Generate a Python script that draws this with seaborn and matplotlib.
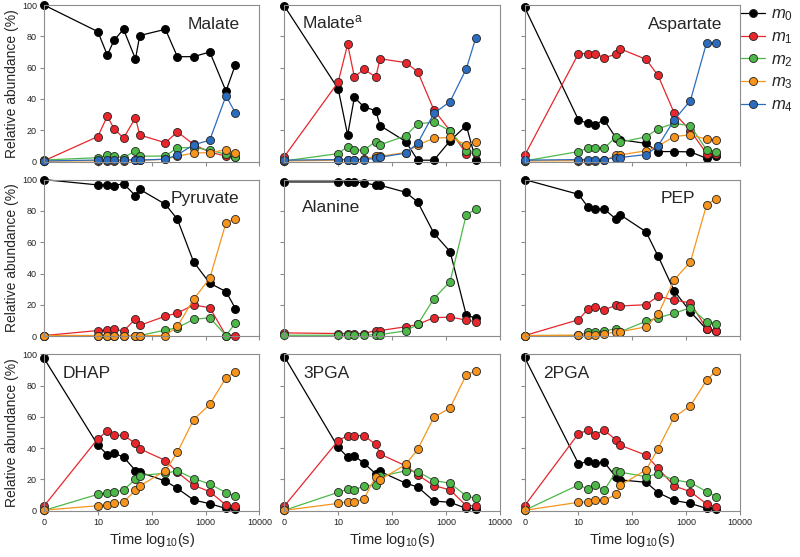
import numpy as np
import pandas as pd
import seaborn as sns
import matplotlib.pyplot as plt
from matplotlib.lines import Line2D

# sampling times (s); t=0 is drawn at the first log position and labelled "0"
times = [0, 10, 15, 20, 30, 50, 60, 180, 300, 600, 1200, 2400, 3600]

malate = {
    "m0": [100, 83, 68, 77.5, 84.5, 65.5, 80.5, 84.5, 67, 67, 70, 45, 62],
    "m1": [0.5, 16, 29, 21, 15, 28, 17, 12, 19, 11, 6, 3.5, 3],
    "m2": [1, 2.5, 4, 3.4, 2.5, 6.8, 3.4, 3.6, 8.8, 9, 7.3, 4.7, 3.2],
    "m3": [0.3, 0.5, 0.5, 0.5, 0.5, 0.8, 0.8, 1.5, 3.5, 5.4, 5.8, 7.5, 5.8],
    "m4": [0.4, 1, 1, 1, 1, 1.3, 1, 1.5, 4.3, 10.7, 13.7, 42, 31],
}
malate_a = {
    "m0": [99.4, 46.5, 17, 41, 35, 32.5, 23, 12.8, 0.9, 0.9, 13.3, 23, 0.9],
    "m1": [3.2, 50.7, 75, 54, 59, 54, 65.7, 63.2, 57.4, 33, 19.7, 5.1, 5.8],
    "m2": [0.4, 5.1, 9.6, 7.3, 7.3, 12.8, 10.7, 16.5, 24.2, 25.1, 19.7, 6.9, 6.4],
    "m3": [0.4, 0.9, 1.3, 1.3, 1.7, 3.4, 3.4, 5.8, 10.5, 15, 15.4, 10.7, 12.4],
    "m4": [0.9, 1.3, 1.3, 1.3, 1.3, 2.1, 2.8, 5.4, 11.8, 30.8, 38.3, 59.3, 79],
}
aspartate = {
    "m0": [98.5, 26.6, 24.4, 23.6, 26.6, 15, 14, 11.6, 6.4, 6.4, 6.2, 2.1, 3.6],
    "m1": [3.9, 69, 69, 69, 66.4, 68.5, 72, 65.3, 55, 31, 19.7, 5.1, 4.7],
    "m2": [0.4, 6.4, 8.6, 9, 8.6, 15.8, 12.4, 15.8, 21, 24.4, 22.9, 7.5, 6.4],
    "m3": [0.4, 0.6, 0.6, 0.6, 0.8, 4, 4.3, 6.9, 9.9, 16, 17.1, 14.3, 13.7],
    "m4": [0.9, 1.3, 1.3, 1.3, 1.3, 2.6, 2.6, 4.5, 9.9, 26.6, 39, 76, 76],
}
pyruvate = {
    "m0": [100, 96.6, 96.6, 96.2, 97.4, 89.7, 93.8, 84.2, 74.7, 47.5, 33.8, 28.5, 17.6],
    "m1": [0.4, 3.6, 4, 4.7, 3.2, 11.1, 6.9, 12.8, 14.8, 19.9, 18.2, 0.4, 0.4],
    "m2": [0.4, 0.4, 0.4, 0.4, 0.4, 0.4, 0.4, 3.9, 5.4, 10.7, 11.8, 0.4, 8.4],
    "m3": [0.4, 0.4, 0.4, 0.4, 0.4, 0.4, 0.4, 0.4, 6.2, 23.6, 37, 72.4, 75],
}
alanine = {
    "m0": [98.5, 98.5, 98.5, 98.5, 98, 96.4, 96.4, 91.9, 85.7, 65.7, 54, 13.3, 11.6],
    "m1": [2.1, 1.7, 1.7, 1.7, 1.7, 3.6, 3.6, 6, 7.5, 11.8, 12.2, 10.3, 9.2],
    "m2": [0.6, 0.6, 0.6, 0.6, 0.6, 1, 1, 3.4, 7.5, 24, 34.9, 77.7, 81],
}
pep = {
    "m0": [100, 90.6, 82.5, 81.2, 81.2, 74.7, 77.5, 66.6, 51.2, 28.9, 15.6, 4.3, 3.6],
    "m1": [0.4, 10.5, 17.3, 18.4, 16.9, 19.7, 19.3, 20.1, 25.5, 23.1, 21.2, 4.9, 3.2],
    "m2": [0.4, 0.5, 2.4, 2.4, 3.2, 4.9, 2.8, 9.6, 11.8, 14.6, 18.2, 9.2, 7.9],
    "m3": [0.4, 0.6, 0.6, 0.6, 1.5, 2.8, 2.8, 6, 13.9, 36, 47.5, 83.9, 87.8],
}
dhap = {
    "m0": [97.4, 42, 35.8, 36.8, 34.3, 25.7, 24.6, 19, 14.3, 6.9, 4.5, 1.5, 1],
    "m1": [3, 46, 51, 48.2, 48.2, 43, 39.6, 32.1, 24.6, 16.3, 12.2, 3.6, 3],
    "m2": [0.2, 10.5, 11.3, 12, 13.3, 20.1, 22.5, 24, 25.5, 20.6, 17.1, 11.6, 9.4],
    "m3": [0.4, 3.2, 3.9, 4.7, 5.6, 13.1, 15.8, 25.7, 37.3, 58.2, 67.9, 85, 88.7],
}
pga3 = {
    "m0": [98.5, 40.5, 34.3, 35.1, 30.4, 23.6, 25.1, 17.6, 15.2, 6.2, 5.4, 1.5, 1.3],
    "m1": [3, 44.8, 48, 48, 48, 42.4, 36.2, 28.7, 22.9, 16.1, 13.3, 3.2, 3.2],
    "m2": [0.3, 11.8, 13.7, 13.3, 15.8, 16.5, 22, 25.5, 25, 19.3, 17.6, 9.4, 7.9],
    "m3": [0.3, 4.7, 5.8, 5.8, 7.5, 21.8, 19.7, 29.6, 39.2, 59.7, 65.7, 86.9, 89.3],
}
pga2 = {
    "m0": [97.9, 30, 31.5, 30.4, 31, 21.4, 19.7, 18.2, 11.6, 6.6, 4.7, 1.5, 1.3],
    "m1": [3.2, 49.3, 51.4, 48.6, 51.4, 45.2, 41.8, 35.5, 27.2, 15.8, 12.2, 4.3, 2.6],
    "m2": [0.3, 16.5, 13.9, 16.5, 13.1, 25.1, 24.6, 21.8, 23.6, 19.7, 18, 12.2, 9],
    "m3": [0.3, 5.4, 5.6, 6.9, 6.6, 10.5, 16.3, 26.1, 39.6, 59.9, 67, 83.5, 89.3],
}

panel_names = ["Malate", "Malate$^{\\mathrm{a}}$", "Aspartate",
               "Pyruvate", "Alanine", "PEP",
               "DHAP", "3PGA", "2PGA"]
panel_data = [malate, malate_a, aspartate, pyruvate, alanine, pep, dhap, pga3, pga2]

x_ticks = [1, 10, 100, 1000, 10000]
x_ticklabels = ["0", "10", "100", "1000", "10000"]
y_ticks = [0, 20, 40, 60, 80, 100]

colors = {"m0": "#000000", "m1": "#e8262b", "m2": "#4db848",
          "m3": "#f7941d", "m4": "#2b6cbf"}

sns.set_style("ticks")
plt.rcParams["font.family"] = ["Liberation Sans", "DejaVu Sans"]
plt.rcParams["mathtext.fontset"] = "custom"
plt.rcParams["mathtext.rm"] = "Liberation Sans"
plt.rcParams["mathtext.it"] = "Liberation Sans:italic"

# title placement (axes fraction, alignment)
title_pos = [(0.91, 0.85, "right"), (0.083, 0.85, "left"), (0.917, 0.85, "right"),
             (0.907, 0.85, "right"), (0.083, 0.79, "left"), (0.63, 0.85, "left"),
             (0.088, 0.85, "left"), (0.088, 0.85, "left"), (0.088, 0.85, "left")]

MS = 5.8

fig, axes = plt.subplots(3, 3, figsize=(8, 5.57), dpi=100)
fig.subplots_adjust(left=0.055, right=0.925, top=0.991, bottom=0.083,
                    wspace=0.116, hspace=0.115)

for i, ax in enumerate(axes.flat):
    d = panel_data[i]
    rows = []
    for iso, vals in d.items():
        for t, v in zip(times, vals):
            rows.append({"t": t if t > 0 else 1, "val": v, "iso": iso})
    df = pd.DataFrame(rows)
    for iso in d:
        sub = df[df["iso"] == iso]
        sns.lineplot(data=sub, x="t", y="val", ax=ax, color=colors[iso],
                     marker="o", markersize=MS, linewidth=0.9,
                     markeredgecolor="#222222" if iso != "m0" else "#000000",
                     markeredgewidth=0.6, estimator=None, clip_on=False)
    ax.set_xscale("log")
    ax.set_xlim(1, 10000)
    ax.set_ylim(0, 100)
    ax.set_xticks(x_ticks)
    ax.minorticks_off()
    ax.set_yticks(y_ticks)
    ax.set_xlabel("")
    ax.set_ylabel("")
    r, c = divmod(i, 3)
    if r == 2:
        ax.set_xticklabels(x_ticklabels)
        ax.set_xlabel("Time log$_{10}$(s)", fontsize=10.5, labelpad=3)
    else:
        ax.set_xticklabels([])
    if c == 0:
        ax.set_ylabel("Relative abundance (%)", fontsize=10, labelpad=2)
    else:
        ax.set_yticklabels([])
    for sp in ax.spines.values():
        sp.set_visible(True)
        sp.set_color("#8c8c8c")
        sp.set_linewidth(0.8)
    ax.tick_params(axis="both", direction="out", length=3, width=0.8,
                   color="#8c8c8c", labelsize=6.5, labelcolor="#222222", pad=2)
    tx, ty, ha = title_pos[i]
    ax.text(tx, ty, panel_names[i], transform=ax.transAxes, ha=ha,
            va="baseline", fontsize=12.5)

handles = [Line2D([], [], color=colors[k], marker="o", markersize=MS,
                  linewidth=0.9, markeredgecolor="#222222", markeredgewidth=0.6)
           for k in colors]
labels = ["$\\mathit{m_%d}$" % j for j in range(5)]
fig.legend(handles, labels, loc="upper left", bbox_to_anchor=(0.922, 0.994),
           frameon=False, fontsize=12, handlelength=1.45, handletextpad=0.35,
           labelspacing=0.36, borderaxespad=0.0, borderpad=0.2)

fig.savefig("out.png", dpi=100, facecolor="white")
